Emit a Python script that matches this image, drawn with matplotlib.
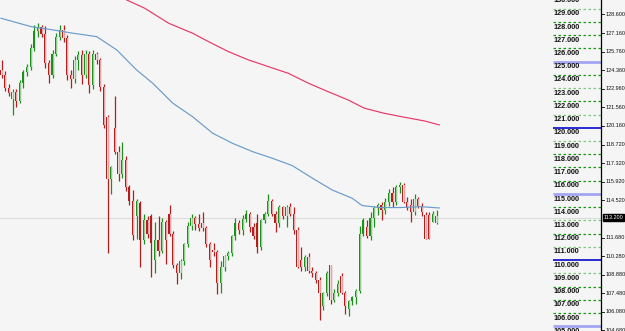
import matplotlib
matplotlib.use("Agg")
import matplotlib.pyplot as plt
import matplotlib.transforms as mtransforms
import numpy as np

# ---- candle data (O, H, L, C) ----
opens = [124.4,124.0,123.0,122.2,122.7,122.0,123.4,124.2,124.6,126.0,127.3,127.6,127.1,124.9,124.0,125.6,126.9,127.4,126.8,124.0,
         123.7,125.1,125.5,124.0,125.6,123.2,125.6,125.1,123.1,120.8,116.1,120.0,118.2,116.5,117.6,115.5,114.5,113.3,114.3,111.5,
         113.0,113.3,110.0,111.5,110.7,112.9,113.5,112.0,109.6,109.0,109.9,111.2,112.6,113.2,112.7,112.8,112.4,111.2,110.8,110.6,
         108.3,109.5,110.3,110.5,111.8,112.8,112.3,113.1,113.5,112.5,112.8,111.0,113.0,113.5,114.5,113.5,112.8,114.0,113.3,114.0,
         113.5,112.3,110.0,109.5,110.2,109.2,109.0,108.5,106.5,107.5,109.6,107.0,107.5,108.8,107.5,106.3,106.9,107.2,107.7,112.0,
         112.5,111.8,113.2,113.9,114.2,113.8,114.4,115.1,114.4,115.5,115.7,114.4,114.2,113.6,114.6,114.1,113.4,113.4,112.9,112.8]
highs = [125.1,124.3,123.3,122.9,122.9,123.6,124.4,124.8,126.3,127.8,127.9,127.8,127.7,125.1,125.9,127.2,127.8,127.8,127.0,124.4,
         125.4,125.8,125.9,125.9,125.8,125.9,125.7,125.3,123.3,121.0,117.1,122.4,118.6,118.9,117.9,115.7,115.3,114.6,114.5,113.5,
         113.3,113.5,112.9,113.3,113.2,113.0,114.2,112.2,109.8,110.1,111.3,112.9,113.5,113.3,113.5,113.6,112.6,111.4,111.3,110.8,
         109.9,110.4,110.7,111.9,113.2,113.0,113.4,113.8,113.6,112.8,113.5,113.1,113.6,115.0,114.6,113.7,114.2,114.1,114.2,114.3,
         114.0,112.5,111.0,110.4,110.5,109.5,109.2,108.7,107.6,109.2,109.6,107.8,108.5,109.0,107.7,107.0,107.3,107.8,112.6,113.2,
         113.0,113.6,114.1,114.3,114.4,114.7,115.4,115.5,115.7,115.9,115.8,114.8,114.6,115.0,114.8,114.3,113.6,113.6,113.7,113.8]
lows = [123.8,122.8,122.4,121.0,121.6,121.9,123.0,123.9,124.4,125.8,126.9,126.9,124.5,123.4,123.8,125.4,126.6,126.5,123.6,123.0,
        123.4,124.4,123.3,123.8,122.6,122.9,124.8,122.8,120.0,110.5,115.0,118.0,116.0,116.2,115.2,114.2,111.5,111.6,109.5,111.2,
        111.7,108.7,109.0,110.3,110.5,109.7,111.8,109.4,108.2,108.6,109.6,111.0,112.3,112.3,112.2,112.2,111.0,109.5,110.3,107.4,
        107.5,109.2,110.0,110.3,111.5,112.0,111.9,112.9,112.1,111.6,110.5,110.8,112.8,113.3,113.3,112.1,112.5,113.1,112.5,113.3,
        112.0,109.4,109.2,109.2,109.0,108.7,108.3,105.5,106.2,107.3,106.7,106.8,107.3,107.4,105.9,105.8,106.6,106.7,107.5,111.8,
        111.7,111.5,112.5,113.4,113.0,113.5,114.1,114.0,114.2,115.1,114.3,113.8,112.9,113.4,113.9,113.3,111.6,111.6,112.9,112.7]
closes = [124.0,123.0,122.6,122.7,122.0,123.4,124.2,124.6,126.0,127.3,127.6,127.1,124.9,124.0,125.6,126.9,127.4,126.8,124.0,123.7,
          125.1,125.5,124.0,125.6,123.2,125.6,125.1,123.1,120.2,116.1,117.0,118.2,116.5,117.6,115.5,114.5,111.9,114.5,111.5,113.0,
          112.0,111.3,111.5,110.7,112.9,111.5,112.0,109.6,109.0,109.9,111.2,112.6,113.2,112.7,112.4,112.4,111.2,110.0,110.6,108.3,
          109.5,110.3,110.5,111.8,112.8,112.3,113.1,113.5,112.5,111.8,111.0,113.0,113.5,114.5,113.5,112.8,114.0,113.3,114.0,113.5,
          112.3,109.5,109.5,110.2,109.2,109.0,108.5,107.5,107.5,109.0,107.0,107.5,108.2,107.5,106.5,106.9,107.2,107.7,112.0,113.0,
          111.8,113.2,113.9,114.2,113.8,114.4,115.1,114.4,115.5,115.7,114.4,114.0,113.6,114.6,114.1,113.6,111.6,111.6,113.5,113.3]

# moving averages (candle index, value)
ma_blue_idx = [0, 8.2, 14.2, 19.7, 26.2, 31.7, 37.1, 41.5, 47, 52.4, 57.9, 63.3, 68.8, 74.2, 79.7, 85.2, 90.6, 96.1, 98.8, 103.7, 109.2, 114.7, 119.9]
ma_blue_val = [128.28, 127.65, 127.40, 127.15, 126.89, 125.88, 124.37, 123.37, 121.86, 120.84, 119.59, 118.83, 118.20, 117.70, 117.14, 116.19, 115.30, 114.67, 114.12, 113.97, 113.97, 114.04, 113.94]
ma_red_idx = [34.4, 39.3, 45.9, 52.4, 56.8, 62.2, 67.7, 73.2, 78.6, 84.1, 89.5, 95, 99.4, 104.8, 110.3, 115.8, 119.9]
ma_red_val = [129.66, 129.04, 127.9, 127.15, 126.51, 125.76, 125.13, 124.62, 124.12, 123.37, 122.73, 122.10, 121.48, 121.10, 120.80, 120.52, 120.22]

# price scale labels
left_levels = list(range(105, 131))
right_labels = ["128.600", "127.160", "125.760", "124.360", "122.960", "121.560", "120.160", "118.720", "117.320",
                "115.920", "114.520", "111.680", "110.280", "108.880", "107.480", "106.080", "104.680"]
current_price = 113.2
current_label = "113.200"

fig = plt.figure(figsize=(6.25, 3.31), dpi=100)
bg = "#f5f5f5"
fig.patch.set_facecolor(bg)
ax = fig.add_axes([0, 0, 1, 1])
ax.set_facecolor(bg)
ax.set_xlim(-0.27, 170.7)
ax.set_ylim(104.64, 129.66)
ax.axis("off")

trans = mtransforms.blended_transform_factory(ax.transAxes, ax.transData)
W = 625.0

# current price faint line
ax.plot([0, 601 / W], [current_price, current_price], transform=trans, color="#dcdcdc", lw=0.8, zorder=1)

# candles
up_dark, up_light = "#1c8f1c", "#8fd08f"
dn_dark, dn_light = "#b41e1e", "#e8a4a4"
for i, (o, h, l, c) in enumerate(zip(opens, highs, lows, closes)):
    up = c >= o
    dark = up_dark if up else dn_dark
    light = up_light if up else dn_light
    ax.vlines(i + 0.15, l, h, color=dark, lw=0.9, zorder=3)
    lo, hi = min(o, c), max(o, c)
    if hi - lo < 0.05:
        hi = lo + 0.05
    ax.bar(i - 0.05, hi - lo, bottom=lo, width=0.3, color=dark, linewidth=0, zorder=4)
    ax.bar(i + 0.3, hi - lo, bottom=lo, width=0.25, color=light, linewidth=0, zorder=4)

# moving averages
ax.plot(ma_blue_idx, ma_blue_val, color="#6b9bcc", lw=0.85, zorder=5)
ax.plot(ma_red_idx, ma_red_val, color="#e5386a", lw=0.85, zorder=5)

# level lines and labels
light_levels = {129, 123, 121, 119, 113, 111, 109}
for v in left_levels:
    if v % 5 == 0:
        if v % 10 == 0:
            col, lw = "#2a2ad0", 1.4
        else:
            col, lw = "#a4a4f0", 2.0
        ax.plot([553 / W, 601 / W], [v, v], transform=trans, color=col, lw=lw, zorder=6, solid_capstyle="butt")
    else:
        col = "#7cc77c" if v in light_levels else "#119911"
        ax.plot([553 / W, 601 / W], [v, v], transform=trans, color=col, lw=0.9,
                linestyle=(0, (2, 2)), zorder=6)
    ax.text(553 / W, v - 0.12, f"{v}.000", transform=trans, fontsize=5.2, fontweight="bold",
            family="Liberation Sans", color="#111111", va="top", ha="left", zorder=7)

# right axis
ax.plot([601 / W, 601 / W], [104.64, 129.66], transform=trans, color="black", lw=0.9, zorder=8)
for s in right_labels:
    v = float(s)
    ax.plot([601 / W, 604 / W], [v, v], transform=trans, color="black", lw=0.6, zorder=8)
    ax.text(605.5 / W, v, s, transform=trans, fontsize=4.0, family="Liberation Sans",
            color="#111111", va="center", ha="left", zorder=8)

# current price box
ax.text(603.5 / W, current_price, current_label, transform=trans, fontsize=4.0, family="Liberation Sans",
        color="white", va="center", ha="left", zorder=9,
        bbox=dict(boxstyle="square,pad=0.15", facecolor="black", edgecolor="black"))

fig.savefig("out.png", dpi=100, facecolor=bg)
